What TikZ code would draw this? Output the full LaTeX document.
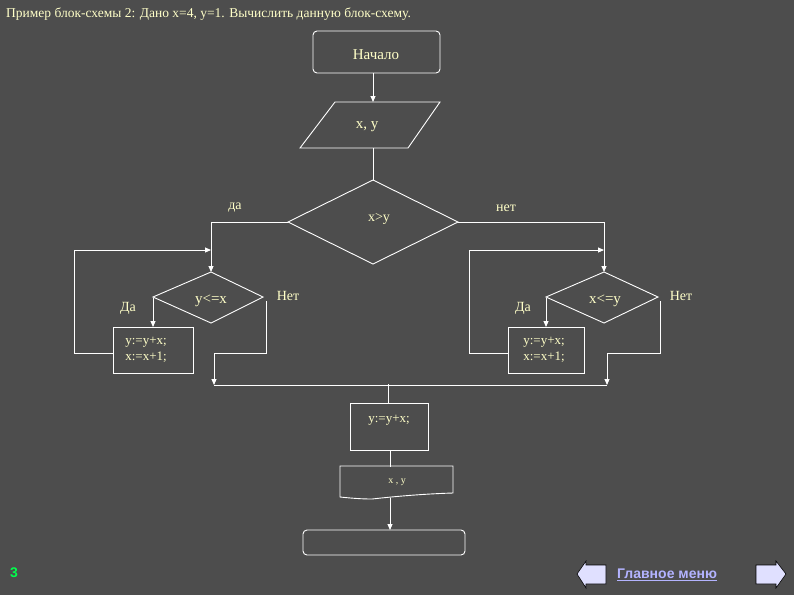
\documentclass[tikz,border=0pt]{standalone}
\usepackage{fontspec}
\setmainfont{Liberation Serif}
\newfontfamily\sans{Liberation Sans}
\usetikzlibrary{arrows.meta}
\definecolor{bg}{HTML}{4D4D4D}
\definecolor{txt}{HTML}{FFFFC8}
\definecolor{nav}{HTML}{E0E0FF}
\begin{document}
\begin{tikzpicture}[x=1pt,y=-1pt,
  ln/.style={draw=white,line width=0.9pt},
  ar/.style={ln,-{Triangle[width=5pt,length=6pt]}},
  lbl/.style={text=txt,font=\fontsize{14}{15}\selectfont,inner sep=0pt},
  small/.style={text=txt,font=\fontsize{13}{16}\selectfont,inner sep=0pt,align=center}]
\fill[bg] (0,0) rectangle (794,595);
\useasboundingbox (0,0) rectangle (794,595);
\node[lbl,anchor=west,font=\fontsize{13.5}{14}\selectfont] (title) at (6,14) {Пример блок-схемы 2: Дано x=4, y=1. Вычислить данную блок-схему.};
% start
\draw[ln,rounded corners=4pt] (313,31) rectangle (440,73);
\node[lbl,font=\fontsize{15}{16}\selectfont] (start) at (376,55) {Начало};
\coordinate (s0) at (373,73); \coordinate (s1) at (373,102);
\draw[ar] (s0) -- (s1);
% input
\draw[ln] (335,102) -- (440,102) -- (408,148) -- (300,148) -- cycle;
\node[lbl,font=\fontsize{15}{16}\selectfont] (in) at (367,127) {x, y};
\coordinate (i0) at (373,148); \coordinate (d0t) at (373,180);
\draw[ln] (i0) -- (d0t);
% diamond x>y
\draw[ln] (373,180) -- (458,222) -- (373,264) -- (288,222) -- cycle;
\node[lbl] (d0) at (379,219) {x>y};
\coordinate (d0l) at (288,222); \coordinate (d0r) at (458,222);
\coordinate (la) at (211,222); \coordinate (lb) at (211,272);
\coordinate (ra) at (604,222); \coordinate (rb) at (604,272);
\draw[ar] (d0l) -- (la) -- (lb);
\draw[ar] (d0r) -- (ra) -- (rb);
\node[lbl] (da) at (235,208) {да};
\node[lbl] (net) at (506,208) {нет};
% left diamond
\draw[ln] (211,272) -- (263,297) -- (211,323) -- (153,297) -- cycle;
\node[lbl,font=\fontsize{15}{16}\selectfont] (d1) at (211,301) {y<=x};
\node[lbl] (da1) at (128,308) {Да};
\node[lbl] (net1) at (288,296) {Нет};
\draw[ln] (113,327) rectangle (193,373);
\node[small] (b1) at (146,350) {y:=y+x;\\x:=x+1;};
\coordinate (l1) at (153,298); \coordinate (l2) at (153,327);
\draw[ar] (l1) -- (l2);
\coordinate (l3) at (113,353); \coordinate (l4) at (74,353); \coordinate (l5) at (74,250); \coordinate (l6) at (211,250);
\draw[ar] (l3) -- (l4) -- (l5) -- (l6);
\coordinate (n1) at (266,301); \coordinate (n2) at (266,353); \coordinate (n3) at (214,353); \coordinate (n4) at (214,385);
\draw[ar] (n1) -- (n2) -- (n3) -- (n4);
% right diamond
\draw[ln] (604,272) -- (658,297) -- (604,323) -- (546,297) -- cycle;
\node[lbl,font=\fontsize{15}{16}\selectfont] (d2) at (605,301) {x<=y};
\node[lbl] (da2) at (523,308) {Да};
\node[lbl] (net2) at (681,296) {Нет};
\draw[ln] (508,327) rectangle (584,373);
\node[small] (b2) at (544,350) {y:=y+x;\\x:=x+1;};
\coordinate (r1) at (546,298); \coordinate (r2) at (546,327);
\draw[ar] (r1) -- (r2);
\coordinate (r3) at (508,353); \coordinate (r4) at (469,353); \coordinate (r5) at (469,250); \coordinate (r6) at (604,250);
\draw[ar] (r3) -- (r4) -- (r5) -- (r6);
\coordinate (m1) at (660,301); \coordinate (m2) at (660,353); \coordinate (m3) at (607,353); \coordinate (m4) at (607,385);
\draw[ar] (m1) -- (m2) -- (m3) -- (m4);
% merge
\coordinate (g1) at (214,385); \coordinate (g2) at (607,385);
\draw[ln] (g1) -- (g2);
\coordinate (g3) at (388,384); \coordinate (g4) at (388,403);
\draw[ln] (g3) -- (g4);
\draw[ln] (350,403) rectangle (428,450);
\node[small] (b3) at (389,420) {y:=y+x;};
\coordinate (o0) at (390,450); \coordinate (o1) at (390,467);
\draw[ln] (o0) -- (o1);
\draw[ln] (340,466) -- (453,466) -- (453,493) .. controls (420,494) and (390,497) .. (372,499) .. controls (360,499) and (350,498) .. (340,497) -- cycle;
\node[small,font=\fontsize{10}{11}\selectfont] (out) at (397,482) {x , y};
\coordinate (o2) at (390,498); \coordinate (o3) at (390,530);
\draw[ar] (o2) -- (o3);
\draw[ln,rounded corners=4pt] (303,530) rectangle (465,555);
% footer
\node[text=green!70!cyan,font=\sans\bfseries\fontsize{14}{15}\selectfont] (pg) at (14,573) {3};
\draw[black,fill=nav,line width=0.6pt] (606,565) -- (586,565) -- (586,561) -- (577,574) -- (586,588) -- (586,584) -- (606,584) -- cycle;
\draw[black,fill=nav,line width=0.6pt] (756,565) -- (776,565) -- (776,561) -- (786,574) -- (776,588) -- (776,584) -- (756,584) -- cycle;
\node[text=nav!80!blue,font=\sans\bfseries\fontsize{14}{15}\selectfont,anchor=west,inner sep=0pt] (menu) at (617,575) {\underline{Главное меню}};
\end{tikzpicture}
\end{document}
